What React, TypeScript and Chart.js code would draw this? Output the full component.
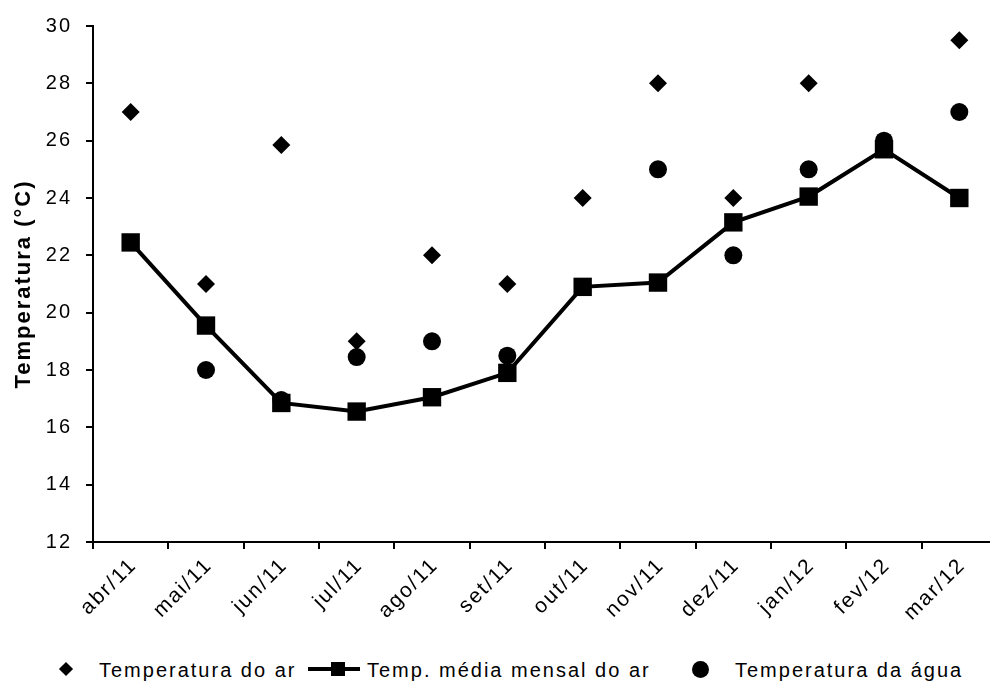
import React, { useEffect, useRef } from "react";
import { Chart, registerables } from "chart.js";

Chart.register(...registerables);

// ---- data ----
const categories = [
  "abr/11", "mai/11", "jun/11", "jul/11", "ago/11", "set/11",
  "out/11", "nov/11", "dez/11", "jan/12", "fev/12", "mar/12",
];
const tempAr = [27, 21, 25.85, 19, 22, 21, 24, 28, 24, 28, 26, 29.5];
const tempMediaAr = [22.45, 19.55, 16.85, 16.55, 17.05, 17.9, 20.9, 21.05, 23.15, 24.05, 25.7, 24];
const tempAgua = [null, 18, 16.95, 18.45, 19, 18.5, null, 25, 22, 25, 26, 27];
const seriesNames = ["Temperatura do ar", "Temp. média mensal do ar", "Temperatura da água"];
const yMin = 12;
const yMax = 30;
const yStep = 2;
const yTitle = "Temperatura (°C)";

const FONT = "'Liberation Sans', Arial, sans-serif";
const CANVAS_W = 1010;
const CANVAS_H = 640;
const PLOT_LEFT = 93;
const PLOT_BOTTOM = 542;

const spacingPlugin = {
  id: "spacing",
  beforeDraw(chart: any) {
    chart.ctx.letterSpacing = "2px";
  },
};

export default function App() {
  const ref = useRef<HTMLCanvasElement | null>(null);

  useEffect(() => {
    if (!ref.current) return;
    const chart = new Chart(ref.current, {
      type: "line",
      data: {
        labels: categories,
        datasets: [
          {
            label: seriesNames[0],
            data: tempAr,
            showLine: false,
            pointStyle: "rectRot",
            pointRadius: 9,
            pointBorderWidth: 0,
            pointBackgroundColor: "#000",
            borderColor: "#000",
            backgroundColor: "#000",
            order: 2,
          },
          {
            label: seriesNames[1],
            data: tempMediaAr,
            borderColor: "#000",
            borderWidth: 4,
            pointStyle: "rect",
            pointRadius: 13,
            pointBorderWidth: 0,
            pointBackgroundColor: "#000",
            backgroundColor: "#000",
            tension: 0,
            order: 0,
          },
          {
            label: seriesNames[2],
            data: tempAgua,
            showLine: false,
            pointStyle: "circle",
            pointRadius: 9,
            pointBorderWidth: 0,
            pointBackgroundColor: "#000",
            borderColor: "#000",
            backgroundColor: "#000",
            order: 1,
          },
        ],
      },
      options: {
        animation: false,
        responsive: false,
        maintainAspectRatio: false,
        layout: { padding: { left: 0, top: 25, right: 13, bottom: 0 } },
        plugins: {
          legend: { display: false },
          tooltip: { enabled: false },
        },
        scales: {
          x: {
            offset: true,
            grid: {
              offset: true,
              drawOnChartArea: false,
              drawTicks: true,
              tickLength: 7,
              color: "#000",
              lineWidth: 2,
            },
            border: { display: true, color: "#000", width: 2 },
            ticks: {
              color: "#000",
              font: { family: FONT, size: 21 },
              maxRotation: 45,
              minRotation: 45,
              autoSkip: false,
              padding: 4,
              labelOffset: 3,
            },
            afterFit(scale: any) {
              scale.height = CANVAS_H - PLOT_BOTTOM;
            },
          },
          y: {
            min: yMin,
            max: yMax,
            grid: {
              drawOnChartArea: false,
              drawTicks: true,
              tickLength: 7,
              color: "#000",
              lineWidth: 2,
            },
            border: { display: true, color: "#000", width: 2 },
            ticks: {
              stepSize: yStep,
              color: "#000",
              font: { family: FONT, size: 20 },
              padding: 14,
            },
            title: {
              display: true,
              text: yTitle,
              color: "#000",
              font: { family: FONT, size: 22, weight: "bold" },
              padding: { top: 11, bottom: 0 },
            },
            afterFit(scale: any) {
              scale.width = PLOT_LEFT;
            },
          },
        },
      },
      plugins: [spacingPlugin],
    });
    return () => chart.destroy();
  }, []);

  const textStyle: React.CSSProperties = {
    position: "absolute",
    top: 658,
    fontFamily: FONT,
    fontSize: 20,
    lineHeight: "24px",
    letterSpacing: "2px",
    color: "#000",
    whiteSpace: "nowrap",
  };

  return (
    <div
      style={{
        position: "fixed",
        left: 0,
        top: 0,
        width: 990,
        height: 686,
        overflow: "hidden",
        background: "#fff",
      }}
    >
      <canvas
        ref={ref}
        width={CANVAS_W}
        height={CANVAS_H}
        style={{ position: "absolute", left: 0, top: 0, width: CANVAS_W, height: CANVAS_H }}
      />
      {/* legend */}
      <div
        style={{
          position: "absolute",
          left: 60.5,
          top: 663.5,
          width: 10,
          height: 10,
          background: "#000",
          transform: "rotate(45deg)",
        }}
      />
      <div style={{ ...textStyle, left: 99 }}>{seriesNames[0]}</div>
      <div
        style={{ position: "absolute", left: 308, top: 666.5, width: 52, height: 4, background: "#000" }}
      />
      <div
        style={{ position: "absolute", left: 330.5, top: 661.5, width: 14, height: 14, background: "#000" }}
      />
      <div style={{ ...textStyle, left: 367 }}>{seriesNames[1]}</div>
      <div
        style={{
          position: "absolute",
          left: 691.5,
          top: 660.5,
          width: 17,
          height: 17,
          borderRadius: "50%",
          background: "#000",
        }}
      />
      <div style={{ ...textStyle, left: 735 }}>{seriesNames[2]}</div>
    </div>
  );
}
